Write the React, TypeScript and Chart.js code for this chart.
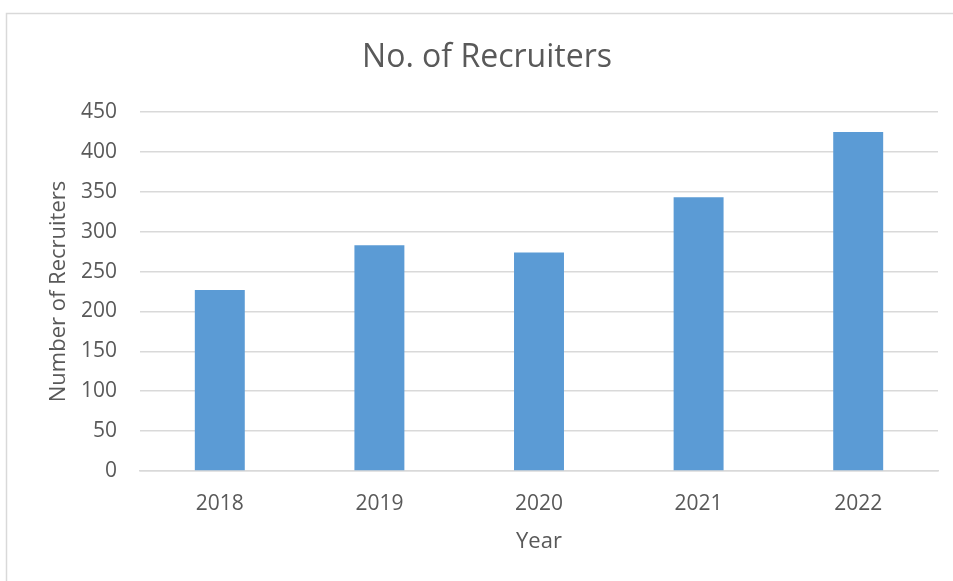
import React, { useEffect, useRef } from "react";
import { Chart, registerables } from "chart.js";

Chart.register(...registerables);

const categories = ["2018", "2019", "2020", "2021", "2022"];
const recruiters = [227, 283, 274, 343, 425];
const chartTitle = "No. of Recruiters";
const xTitle = "Year";
const yTitle = "Number of Recruiters";

const FONT = "'Open Sans', 'Noto Sans', sans-serif";
const TEXT = "#595959";
const GRID = "#d9d9d9";

const framePlugin = {
  id: "frame",
  beforeDraw(chart: any) {
    const { ctx } = chart;
    ctx.save();
    ctx.fillStyle = "#ffffff";
    ctx.fillRect(0, 0, chart.width, chart.height);
    ctx.strokeStyle = GRID;
    ctx.lineWidth = 1.5;
    ctx.beginPath();
    ctx.moveTo(6.5, chart.height + 2);
    ctx.lineTo(6.5, 13.5);
    ctx.lineTo(chart.width + 2, 13.5);
    ctx.stroke();
    ctx.restore();
  },
  afterDraw(chart: any) {
    const { ctx } = chart;
    ctx.save();
    ctx.fillStyle = TEXT;
    ctx.font = `32px ${FONT}`;
    ctx.textAlign = "center";
    ctx.textBaseline = "alphabetic";
    ctx.fillText(chartTitle, 487, 67);
    ctx.restore();
  },
};

export default function App() {
  const ref = useRef<HTMLCanvasElement>(null);
  useEffect(() => {
    if (!ref.current) return;
    const chart = new Chart(ref.current, {
      type: "bar",
      data: {
        labels: categories,
        datasets: [
          {
            label: "No. of Recruiters",
            data: recruiters,
            backgroundColor: "#5b9bd5",
            barPercentage: 0.313,
            categoryPercentage: 1,
          },
        ],
      },
      options: {
        responsive: false,
        animation: false,
        layout: { padding: { top: 112, right: 15, left: 0, bottom: 0 } },
        plugins: {
          legend: { display: false },
          title: { display: false },
          tooltip: { enabled: false },
        },
        scales: {
          x: {
            grid: { display: false, drawTicks: false },
            border: { display: true, color: GRID, width: 1.5 },
            ticks: { color: TEXT, font: { family: FONT, size: 21 }, padding: 20 },
            title: {
              display: true,
              text: xTitle,
              color: TEXT,
              font: { family: FONT, size: 22 },
              padding: { top: 0, bottom: 26 },
            },
            afterFit(scale: any) {
              scale.height = 110;
            },
          },
          y: {
            min: 0,
            max: 450,
            ticks: { stepSize: 50, color: TEXT, font: { family: FONT, size: 21 }, padding: 23 },
            grid: { color: GRID, lineWidth: 1.5, drawTicks: false },
            border: { display: false },
            title: {
              display: true,
              text: yTitle,
              color: TEXT,
              font: { family: FONT, size: 22 },
              padding: { top: 46, bottom: 0 },
            },
            afterFit(scale: any) {
              scale.width = 140;
            },
          },
        },
      },
      plugins: [framePlugin],
    });
    return () => chart.destroy();
  }, []);
  return (
    <div style={{ position: "absolute", left: 0, top: 0, width: 953, height: 581 }}>
      <canvas ref={ref} width={953} height={581} style={{ display: "block" }} />
    </div>
  );
}
